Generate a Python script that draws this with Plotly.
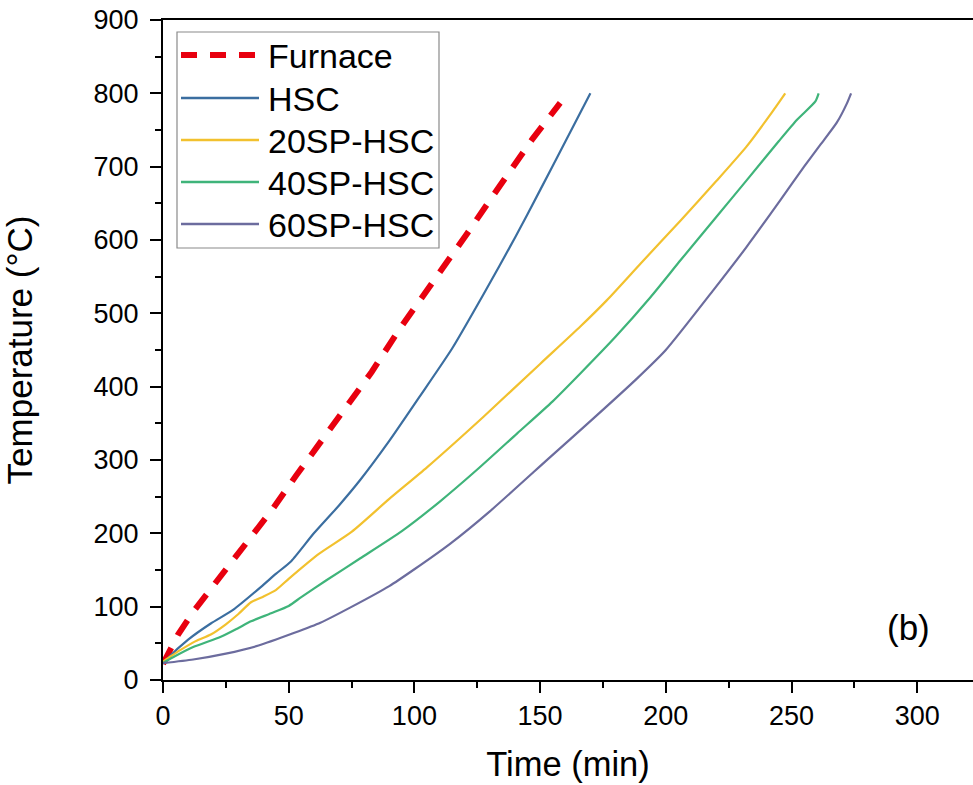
import plotly.graph_objects as go

# ---- data ----
furnace_t = [0, 2, 6, 12, 19, 27, 35, 44, 53, 63, 75, 83, 94, 108, 121, 134, 147, 158]
furnace_T = [22, 35, 62, 93, 124, 158, 192, 235, 279, 326, 385, 420, 478, 545, 609, 674, 738, 787]

hsc_t = [0, 2, 10, 19, 28, 39, 45, 51, 60, 70, 78.5, 90, 102, 115, 127.5, 140, 150, 160, 170]
hsc_T = [22, 30, 55, 77, 96, 127, 145, 162, 200, 238, 273, 326, 386, 452, 526, 603, 668, 734, 800]

sp20_t = [0, 3, 7, 13, 19, 25, 30, 35, 40, 45, 50, 62, 75, 90, 105, 127.5, 150, 166, 176.6, 190, 206, 220, 232, 242, 245.5, 247.5]
sp20_T = [25, 32, 41, 53, 62, 76, 90, 106, 114, 123, 138, 172, 202, 247, 290, 359, 431, 482, 518, 568, 627, 680, 727, 773, 790, 800]

sp40_t = [0, 4, 12, 23, 30, 35, 43, 50, 55, 65, 78.5, 95, 110, 125, 140.8, 155, 166, 180, 193.9, 206, 220, 232.3, 245, 252.2, 259.5, 260.8]
sp40_T = [23, 31, 45, 59, 71, 80, 91, 101, 113, 136, 166, 203, 243, 287, 336, 380, 418, 468, 522, 573, 631, 682, 735, 764, 789, 800]

sp60_t = [0, 12, 25, 38, 52, 62.6, 74.6, 90, 100, 114.3, 130, 154, 170, 188.5, 200, 219, 232, 245.5, 255, 261.5, 268, 272, 273.7]
sp60_T = [23, 28, 36, 47, 64, 78, 99, 128, 151, 186, 230, 304, 353, 411, 450, 532, 590, 654, 700, 730, 760, 786, 800]

series_names = ["Furnace", "HSC", "20SP-HSC", "40SP-HSC", "60SP-HSC"]
series_colors = ["#E8000F", "#3B6EA0", "#F2C12E", "#3FB47A", "#6C6C9E"]

x_ticks = [0, 50, 100, 150, 200, 250, 300]
y_ticks = [0, 100, 200, 300, 400, 500, 600, 700, 800, 900]

FONT = "Liberation Sans, Arial, Helvetica, sans-serif"

fig = go.Figure()

all_t = [furnace_t, hsc_t, sp20_t, sp40_t, sp60_t]
all_T = [furnace_T, hsc_T, sp20_T, sp40_T, sp60_T]
for i, (name, t, T) in enumerate(zip(series_names, all_t, all_T)):
    if i == 0:
        line = dict(color=series_colors[i], width=6, dash="18px,14px")
    else:
        line = dict(color=series_colors[i], width=2.2, shape="spline", smoothing=0.6)
    fig.add_trace(go.Scatter(x=t, y=T, mode="lines", name=name, line=line,
                             showlegend=False))

# ---- layout geometry (page body margin removed by post_script) ----
OFF = 0
PX0 = 163               # plot area left
PW = 810                # plot area width
PT = 20                 # plot area top
PH = 660                # plot area height
PY0 = PT + PH           # plot area bottom


def px(sx):
    return (sx - OFF - PX0) / PW


def py(sy):
    return (PY0 - (sy - OFF)) / PH


shapes = [dict(type="rect", xref="paper", yref="paper",
               x0=px(177), x1=px(439), y0=py(248), y1=py(32),
               line=dict(color="#8a8a8a", width=1.2), fillcolor="white", layer="below")]
annotations = []
row_y = [55, 98, 140, 182, 224]
for i, name in enumerate(series_names):
    if i == 0:
        ln = dict(color=series_colors[i], width=6, dash="16px,13px")
    else:
        ln = dict(color=series_colors[i], width=2.4)
    shapes.append(dict(type="line", xref="paper", yref="paper",
                       x0=px(181), x1=px(259), y0=py(row_y[i]), y1=py(row_y[i]),
                       line=ln))
    annotations.append(dict(xref="paper", yref="paper", x=px(266), y=py(row_y[i] + 1),
                            text=name, showarrow=False, xanchor="left", yanchor="middle",
                            font=dict(family=FONT, size=34, color="black")))

annotations.append(dict(xref="paper", yref="paper", x=px(908), y=py(627),
                        text="(b)", showarrow=False, xanchor="center", yanchor="middle",
                        font=dict(family=FONT, size=35, color="black")))

fig.update_layout(
    width=973, height=785,
    margin=dict(l=PX0, r=0, t=PT, b=785 - PY0),
    paper_bgcolor="white", plot_bgcolor="white",
    font=dict(family=FONT, color="black"),
    shapes=shapes, annotations=annotations,
    showlegend=False,
)

fig.update_xaxes(
    range=[0, PW / 2.514], tickvals=x_ticks, ticktext=[str(v) for v in x_ticks],
    automargin=False, ticklabeloverflow="allow",
    showgrid=False, zeroline=False,
    showline=True, linecolor="black", linewidth=2, mirror=True,
    ticks="outside", ticklen=11, tickwidth=2, tickcolor="black",
    tickfont=dict(family=FONT, size=27, color="black"),
    minor=dict(ticks="outside", dtick=25, tick0=0, ticklen=6, tickwidth=2, tickcolor="black"),
    title=dict(text="Time (min)", font=dict(family=FONT, size=34.5, color="black"), standoff=21),
)
fig.update_yaxes(
    range=[0, 900], tickvals=y_ticks, ticktext=[str(v) for v in y_ticks],
    automargin=False, ticklabeloverflow="allow",
    showgrid=False, zeroline=False,
    showline=True, linecolor="black", linewidth=2, mirror=False,
    ticks="outside", ticklen=11, tickwidth=2, tickcolor="black", ticklabelstandoff=6,
    tickfont=dict(family=FONT, size=27, color="black"),
    minor=dict(ticks="outside", dtick=50, tick0=0, ticklen=6, tickwidth=2, tickcolor="black"),
    title=dict(text="Temperature (°C)", font=dict(family=FONT, size=35, color="black"), standoff=58),
)

fig.write_html("out.html",
               config={"displayModeBar": False},
               post_script="document.body.style.margin='0';document.body.style.overflow='hidden';")
